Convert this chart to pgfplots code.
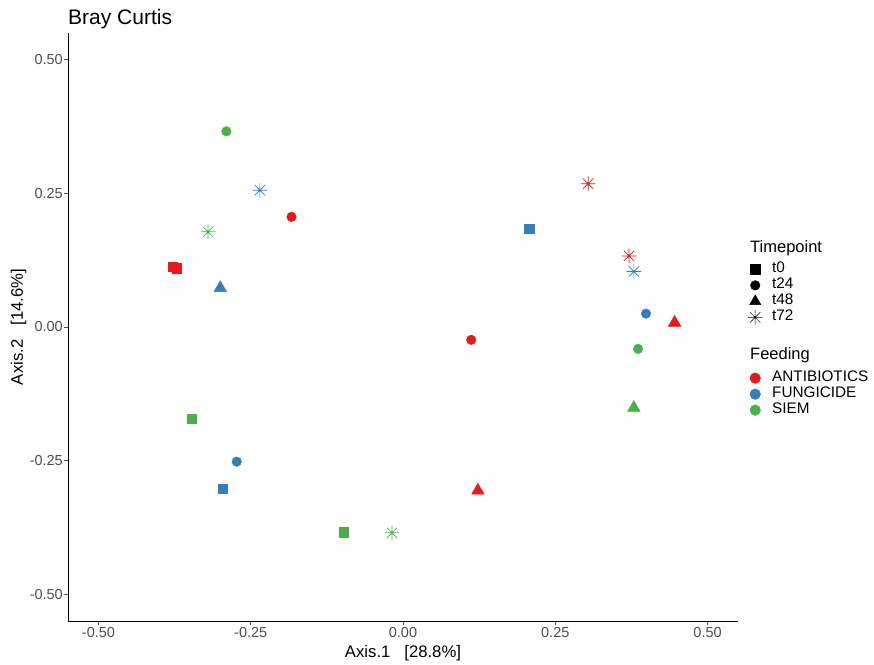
\documentclass[border=0pt]{standalone}
\usepackage{fontspec}
\setmainfont{Liberation Sans}
\usepackage{pgfplots}
\pgfplotsset{compat=1.18}
\definecolor{cRed}{HTML}{E41A1C}
\definecolor{cBlue}{HTML}{377EB8}
\definecolor{cGreen}{HTML}{4DAF4A}
\definecolor{tickgray}{HTML}{4D4D4D}
\pgfdeclareplotmark{ast8}{%
 \pgfpathmoveto{\pgfqpoint{-\pgfplotmarksize}{0pt}}\pgfpathlineto{\pgfqpoint{\pgfplotmarksize}{0pt}}%
 \pgfpathmoveto{\pgfqpoint{0pt}{-\pgfplotmarksize}}\pgfpathlineto{\pgfqpoint{0pt}{\pgfplotmarksize}}%
 \pgfpathmoveto{\pgfqpoint{-.7071\pgfplotmarksize}{-.7071\pgfplotmarksize}}\pgfpathlineto{\pgfqpoint{.7071\pgfplotmarksize}{.7071\pgfplotmarksize}}%
 \pgfpathmoveto{\pgfqpoint{-.7071\pgfplotmarksize}{.7071\pgfplotmarksize}}\pgfpathlineto{\pgfqpoint{.7071\pgfplotmarksize}{-.7071\pgfplotmarksize}}%
 \pgfusepathqstroke}
\pgfplotsset{
 sq/.style={only marks, mark=square*, mark size=4.7bp},
 ci/.style={only marks, mark=*, mark size=4.8bp},
 tr/.style={only marks, mark=triangle*, mark size=7.3bp},
 st/.style={only marks, mark=ast8, mark size=7.3bp, mark options={line width=0.7bp}},
 legimg/.style={
   legend image code/.code={\path[draw=none,fill=none] (0bp,-3bp) rectangle (25bp,3bp);\draw[mark repeat=2,mark phase=2,##1] plot coordinates {(0bp,0bp)(11bp,0bp)(25bp,0bp)};},
 },
 legsty/.style={legend style={draw=none, fill=none, inner sep=0pt, row sep=0pt, column sep=1bp,
   font=\fontsize{15.3bp}{17bp}\selectfont,
   nodes={inner xsep=2bp, inner ysep=0bp, text height=11bp, text depth=5bp}},
   legend cell align=left},
}
\begin{document}
\begin{tikzpicture}
\begin{axis}[
 scale only axis, width=670bp, height=588bp,
 xmin=-0.55, xmax=0.55, ymin=-0.55, ymax=0.55,
 axis x line*=bottom, axis y line*=left,
 axis line style={black, line width=0.9bp, -},
 xtick={-0.5,-0.25,0,0.25,0.5}, xticklabels={-0.50,-0.25,0.00,0.25,0.50},
 ytick={-0.5,-0.25,0,0.25,0.5}, yticklabels={-0.50,-0.25,0.00,0.25,0.50},
 tick style={tickgray, line width=0.8bp},
 tick align=outside, major tick length=3.5bp,
 ticklabel style={font=\fontsize{14.5bp}{16bp}\selectfont, text=tickgray},
 xticklabel style={inner sep=2bp, yshift=-1bp},
 yticklabel style={inner sep=1.5bp},
 xlabel={Axis.1\ \ \ [28.8\%]},
 ylabel={Axis.2\ \ \ [14.6\%]},
 label style={font=\fontsize{16.7bp}{18bp}\selectfont, text=black, inner sep=0pt},
 xlabel style={at={(axis description cs:0.5,0)}, anchor=base, yshift=-36bp},
 ylabel style={at={(axis description cs:-0.0672,0.5)}, anchor=base},
 clip=false,
 legsty,
 legend style={at={(axis description cs:1.009,0.612)}, anchor=north west},
]
% ANTIBIOTICS
\addplot[sq, cRed, forget plot] coordinates {(-0.378,0.113) (-0.372,0.110)};
\addplot[ci, cRed, forget plot] coordinates {(-0.183,0.206) (0.112,-0.024)};
\addplot[tr, cRed, forget plot] coordinates {(0.123,-0.306) (0.446,0.008)};
\addplot[st, cRed, forget plot] coordinates {(0.304,0.268) (0.371,0.133)};
% FUNGICIDE
\addplot[sq, cBlue, forget plot] coordinates {(0.207,0.184) (-0.296,-0.302)};
\addplot[ci, cBlue, forget plot] coordinates {(-0.273,-0.252) (0.399,0.025)};
\addplot[tr, cBlue, forget plot] coordinates {(-0.300,0.073)};
\addplot[st, cBlue, forget plot] coordinates {(-0.235,0.256) (0.379,0.104)};
% SIEM
\addplot[sq, cGreen, forget plot] coordinates {(-0.347,-0.171) (-0.097,-0.384)};
\addplot[ci, cGreen, forget plot] coordinates {(-0.290,0.366) (0.386,-0.041)};
\addplot[tr, cGreen, forget plot] coordinates {(0.379,-0.151)};
\addplot[st, cGreen, forget plot] coordinates {(-0.320,0.178) (-0.018,-0.385)};
% legend: Timepoint
\addlegendimage{sq, black, legimg}
\addlegendentry{t0}
\addlegendimage{ci, black, legimg}
\addlegendentry{t24}
\addlegendimage{tr, black, mark size=6.5bp, legimg}
\addlegendentry{t48}
\addlegendimage{st, black, mark options={line width=0.5bp}, legimg}
\addlegendentry{t72}
\end{axis}
\begin{axis}[
 scale only axis, width=670bp, height=588bp,
 xmin=-0.55, xmax=0.55, ymin=-0.55, ymax=0.55,
 hide axis, clip=false,
 legsty,
 legend style={at={(axis description cs:1.009,0.4269)}, anchor=north west},
]
\addlegendimage{ci, cRed, mark size=5.3bp, legimg}
\addlegendentry{ANTIBIOTICS}
\addlegendimage{ci, cBlue, mark size=5.3bp, legimg}
\addlegendentry{FUNGICIDE}
\addlegendimage{ci, cGreen, mark size=5.3bp, legimg}
\addlegendentry{SIEM}
\end{axis}
\node[anchor=base west, inner sep=0pt, font=\fontsize{21bp}{23bp}\selectfont] at (0bp,596bp) {Bray Curtis};
\node[anchor=base west, inner sep=0pt, font=\fontsize{16.5bp}{18bp}\selectfont] at (682bp,368bp) {Timepoint};
\node[anchor=base west, inner sep=0pt, font=\fontsize{16.5bp}{18bp}\selectfont] at (682bp,261bp) {Feeding};
\pgfresetboundingbox
\path (-68bp,-44bp) rectangle (806bp,621bp);
\end{tikzpicture}
\end{document}
